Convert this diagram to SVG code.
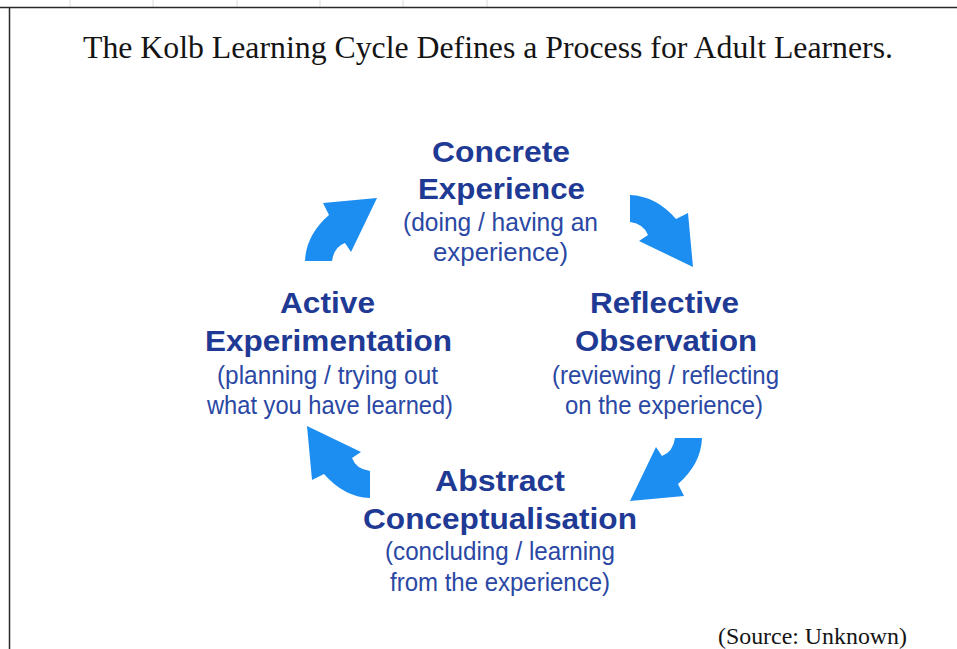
<svg xmlns="http://www.w3.org/2000/svg" xmlns:xlink="http://www.w3.org/1999/xlink" width="957" height="649" viewBox="0 0 957 649">
  <style>
    .title { font-family: "Liberation Serif", "Times New Roman", serif; fill: #141414; }
    .head { font-family: "Liberation Sans", Arial, sans-serif; font-weight: bold; font-size: 30px; fill: #1f3a94; }
    .sub { font-family: "Liberation Sans", Arial, sans-serif; font-size: 25px; fill: #2a48a4; }
    .arrow { fill: #1c8ef2; }
    .frame { stroke: #2a2a2a; stroke-width: 1.5; fill: none; }
    .tick { stroke: #dcdcdc; stroke-width: 1; }
  </style>
  <defs>
    <!-- curved cycle arrow, drawn in its upper-left position -->
    <path id="cycle-arrow" d="M305,261 Q306,235 329,215 L323,203 L377,198 L351,252 L345,243 Q334,247 332,261 Z"/>
  </defs>

  <rect width="957" height="649" fill="#ffffff"/>

  <!-- page frame -->
  <g id="frame">
    <line class="tick" x1="70" y1="0" x2="70" y2="7"/>
    <line class="tick" x1="153" y1="0" x2="153" y2="7"/>
    <line class="tick" x1="237" y1="0" x2="237" y2="7"/>
    <line class="tick" x1="320" y1="0" x2="320" y2="7"/>
    <line class="tick" x1="403" y1="0" x2="403" y2="7"/>
    <line class="tick" x1="487" y1="0" x2="487" y2="7"/>
    <path class="frame" d="M0,7.5 H957 M9.5,7 V649"/>
  </g>

  <g id="title">
    <text class="title" x="83" y="58" font-size="31" textLength="810" lengthAdjust="spacingAndGlyphs">The Kolb Learning Cycle Defines a Process for Adult Learners.</text>
  </g>

  <!-- connectors: the four arrows of the cycle -->
  <g id="connectors">
    <use class="arrow" xlink:href="#cycle-arrow" href="#cycle-arrow"/>
    <use class="arrow" xlink:href="#cycle-arrow" href="#cycle-arrow" transform="rotate(90,500.5,390.5)"/>
    <use class="arrow" xlink:href="#cycle-arrow" href="#cycle-arrow" transform="rotate(180,503.5,349.5)"/>
    <use class="arrow" xlink:href="#cycle-arrow" href="#cycle-arrow" transform="rotate(180,500,346.5) rotate(90,500.5,390.5)"/>
  </g>

  <g id="concrete-experience">
    <text class="head" x="432" y="162" textLength="138" lengthAdjust="spacingAndGlyphs">Concrete</text>
    <text class="head" x="418" y="199" textLength="167" lengthAdjust="spacingAndGlyphs">Experience</text>
    <text class="sub" x="403" y="231" textLength="195" lengthAdjust="spacingAndGlyphs">(doing / having an</text>
    <text class="sub" x="433" y="261" textLength="135" lengthAdjust="spacingAndGlyphs">experience)</text>
  </g>

  <g id="reflective-observation">
    <text class="head" x="590" y="313" textLength="149" lengthAdjust="spacingAndGlyphs">Reflective</text>
    <text class="head" x="575" y="351" textLength="182" lengthAdjust="spacingAndGlyphs">Observation</text>
    <text class="sub" x="552" y="384" textLength="227" lengthAdjust="spacingAndGlyphs">(reviewing / reflecting</text>
    <text class="sub" x="565" y="414" textLength="198" lengthAdjust="spacingAndGlyphs">on the experience)</text>
  </g>

  <g id="abstract-conceptualisation">
    <text class="head" x="435" y="491" textLength="130" lengthAdjust="spacingAndGlyphs">Abstract</text>
    <text class="head" x="363" y="529" textLength="274" lengthAdjust="spacingAndGlyphs">Conceptualisation</text>
    <text class="sub" x="385" y="560" textLength="230" lengthAdjust="spacingAndGlyphs">(concluding / learning</text>
    <text class="sub" x="390" y="591" textLength="220" lengthAdjust="spacingAndGlyphs">from the experience)</text>
  </g>

  <g id="active-experimentation">
    <text class="head" x="280" y="313" textLength="95" lengthAdjust="spacingAndGlyphs">Active</text>
    <text class="head" x="205" y="351" textLength="247" lengthAdjust="spacingAndGlyphs">Experimentation</text>
    <text class="sub" x="217" y="384" textLength="221" lengthAdjust="spacingAndGlyphs">(planning / trying out</text>
    <text class="sub" x="207" y="414" textLength="246" lengthAdjust="spacingAndGlyphs">what you have learned)</text>
  </g>

  <g id="source">
    <text class="title" x="718" y="644" font-size="23" textLength="189" lengthAdjust="spacingAndGlyphs">(Source: Unknown)</text>
  </g>
</svg>
